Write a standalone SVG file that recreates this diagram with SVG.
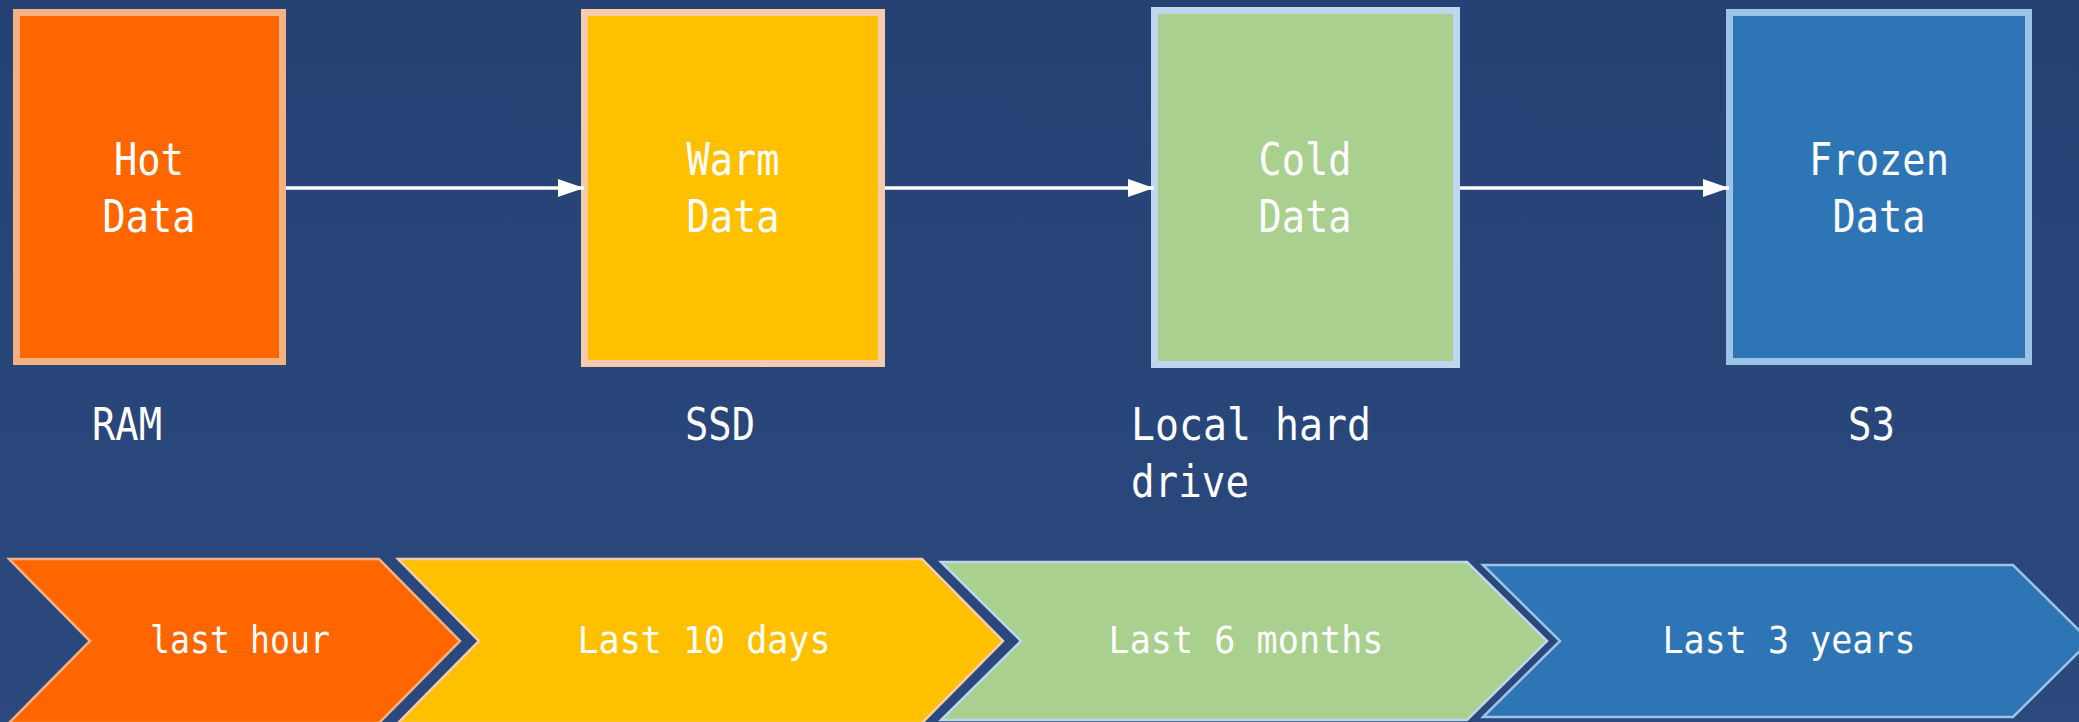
<svg xmlns="http://www.w3.org/2000/svg" width="2079" height="722" viewBox="0 0 2079 722">
  <defs>
    <linearGradient id="bg" x1="0" y1="0" x2="0" y2="1">
      <stop offset="0" stop-color="#264275"/>
      <stop offset="1" stop-color="#2b497d"/>
    </linearGradient>
    <marker id="arrow" viewBox="0 0 26 18" refX="26" refY="9" markerWidth="26" markerHeight="18" markerUnits="userSpaceOnUse" orient="auto">
      <path d="M0,0 L26,9 L0,18 z" fill="#ffffff"/>
    </marker>
    <style>
      .box { stroke-width: 7; }
      .chev { stroke-width: 2.5; }
      .txt { font-family: "DejaVu Sans Mono", "Liberation Mono", monospace; fill: #ffffff; }
      .big { font-size: 44px; }
      .small { font-size: 37px; }
      .mid { text-anchor: middle; }
      .link { stroke: #ffffff; stroke-width: 3.5; fill: none; marker-end: url(#arrow); }
      .hot { fill: #ff6600; stroke: #f4b183; }
      .warm { fill: #ffc000; stroke: #f8cbad; }
      .cold { fill: #a9d08e; stroke: #bdd7ee; }
      .frozen { fill: #2e75b6; stroke: #9dc3e6; }
    </style>
  </defs>

  <rect x="0" y="0" width="2079" height="722" fill="url(#bg)"/>

  <!-- storage tiers -->
  <g id="hot-data">
    <rect class="box hot" x="16.5" y="12.5" width="266" height="349"/>
    <text class="txt big mid" x="149" y="175" textLength="70" lengthAdjust="spacingAndGlyphs">Hot</text>
    <text class="txt big mid" x="149" y="232" textLength="93" lengthAdjust="spacingAndGlyphs">Data</text>
  </g>
  <g id="warm-data">
    <rect class="box warm" x="584.5" y="12.5" width="297" height="351"/>
    <text class="txt big mid" x="733" y="175" textLength="93" lengthAdjust="spacingAndGlyphs">Warm</text>
    <text class="txt big mid" x="733" y="232" textLength="93" lengthAdjust="spacingAndGlyphs">Data</text>
  </g>
  <g id="cold-data">
    <rect class="box cold" x="1154.5" y="10.5" width="302" height="354"/>
    <text class="txt big mid" x="1305" y="175" textLength="93" lengthAdjust="spacingAndGlyphs">Cold</text>
    <text class="txt big mid" x="1305" y="232" textLength="93" lengthAdjust="spacingAndGlyphs">Data</text>
  </g>
  <g id="frozen-data">
    <rect class="box frozen" x="1729.5" y="12.5" width="299" height="349"/>
    <text class="txt big mid" x="1879" y="175" textLength="140" lengthAdjust="spacingAndGlyphs">Frozen</text>
    <text class="txt big mid" x="1879" y="232" textLength="93" lengthAdjust="spacingAndGlyphs">Data</text>
  </g>

  <!-- tier transitions -->
  <g id="connectors">
    <line class="link" x1="286" y1="188" x2="584" y2="188"/>
    <line class="link" x1="885" y1="188" x2="1154" y2="188"/>
    <line class="link" x1="1460" y1="188" x2="1729" y2="188"/>
  </g>

  <!-- storage media -->
  <g id="media-labels">
    <text class="txt big" x="92" y="440" textLength="70" lengthAdjust="spacingAndGlyphs">RAM</text>
    <text class="txt big" x="685" y="440" textLength="70" lengthAdjust="spacingAndGlyphs">SSD</text>
    <text class="txt big" x="1131" y="440" textLength="240" lengthAdjust="spacingAndGlyphs">Local hard</text>
    <text class="txt big" x="1131" y="497" textLength="118" lengthAdjust="spacingAndGlyphs">drive</text>
    <text class="txt big" x="1848" y="440" textLength="47" lengthAdjust="spacingAndGlyphs">S3</text>
  </g>

  <!-- retention timeline -->
  <g id="last-hour">
    <polygon class="chev hot" points="9,559 379,559 460,641 379,723 9,723 90,641"/>
    <text class="txt small mid" x="240" y="653" textLength="180" lengthAdjust="spacingAndGlyphs">last hour</text>
  </g>
  <g id="last-10-days">
    <polygon class="chev warm" points="398,559 922,559 1003,641 922,723 398,723 479,641"/>
    <text class="txt small mid" x="704" y="653" textLength="253" lengthAdjust="spacingAndGlyphs">Last 10 days</text>
  </g>
  <g id="last-6-months">
    <polygon class="chev cold" points="941,562 1467,562 1547,641 1467,720 941,720 1021,641"/>
    <text class="txt small mid" x="1246" y="653" textLength="275" lengthAdjust="spacingAndGlyphs">Last 6 months</text>
  </g>
  <g id="last-3-years">
    <polygon class="chev frozen" points="1483,565 2013,565 2090,641 2013,717 1483,717 1560,641"/>
    <text class="txt small mid" x="1789" y="653" textLength="253" lengthAdjust="spacingAndGlyphs">Last 3 years</text>
  </g>
</svg>
